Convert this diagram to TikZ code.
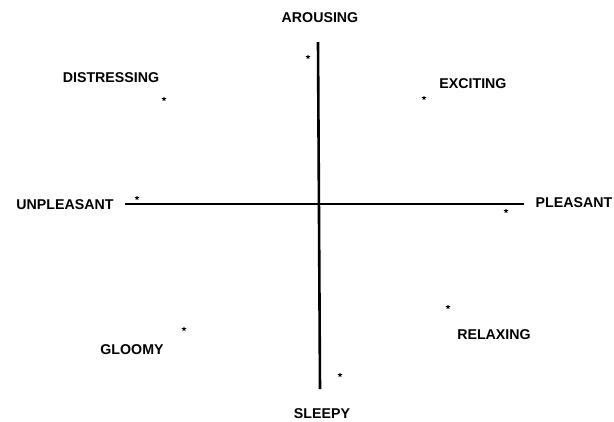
\documentclass[tikz,border=0pt]{standalone}
\usepackage{fontspec}
\setmainfont{Liberation Sans}
\usetikzlibrary{shapes.geometric}
\begin{document}
\begin{tikzpicture}[x=1pt,y=-1pt,
  lbl/.style={font=\fontsize{14.2}{15}\selectfont\bfseries, inner sep=0pt},
  pt/.style={star, star points=5, star point ratio=2.2, fill=black, inner sep=0pt, minimum size=5pt},
  axis/.style={line width=2.6pt}]
\useasboundingbox (0,0) rectangle (614,421);
% axes endpoints
\coordinate (top) at (318,42);
\coordinate (bot) at (320,389);
\coordinate (lft) at (125,204);
\coordinate (rgt) at (524,204);
\draw[axis] (top) -- (bot);
\draw[axis] (lft) -- (rgt);
% labels
\node[lbl] (arousing) at (320,18) {AROUSING};
\node[lbl] (sleepy) at (322,414) {SLEEPY};
\node[lbl] (unpleasant) at (65,205) {UNPLEASANT};
\node[lbl] (pleasant) at (574,203) {PLEASANT};
\node[lbl] (distressing) at (111,78) {DISTRESSING};
\node[lbl] (exciting) at (473,84) {EXCITING};
\node[lbl] (gloomy) at (132,350) {GLOOMY};
\node[lbl] (relaxing) at (494,335) {RELAXING};
% points
\node[pt] (p1) at (308,57) {};
\node[pt] (p2) at (164,99) {};
\node[pt] (p3) at (424,98) {};
\node[pt] (p4) at (137,198) {};
\node[pt] (p5) at (506,211) {};
\node[pt] (p6) at (184,329) {};
\node[pt] (p7) at (448,307) {};
\node[pt] (p8) at (340,375) {};
\end{tikzpicture}
\end{document}
